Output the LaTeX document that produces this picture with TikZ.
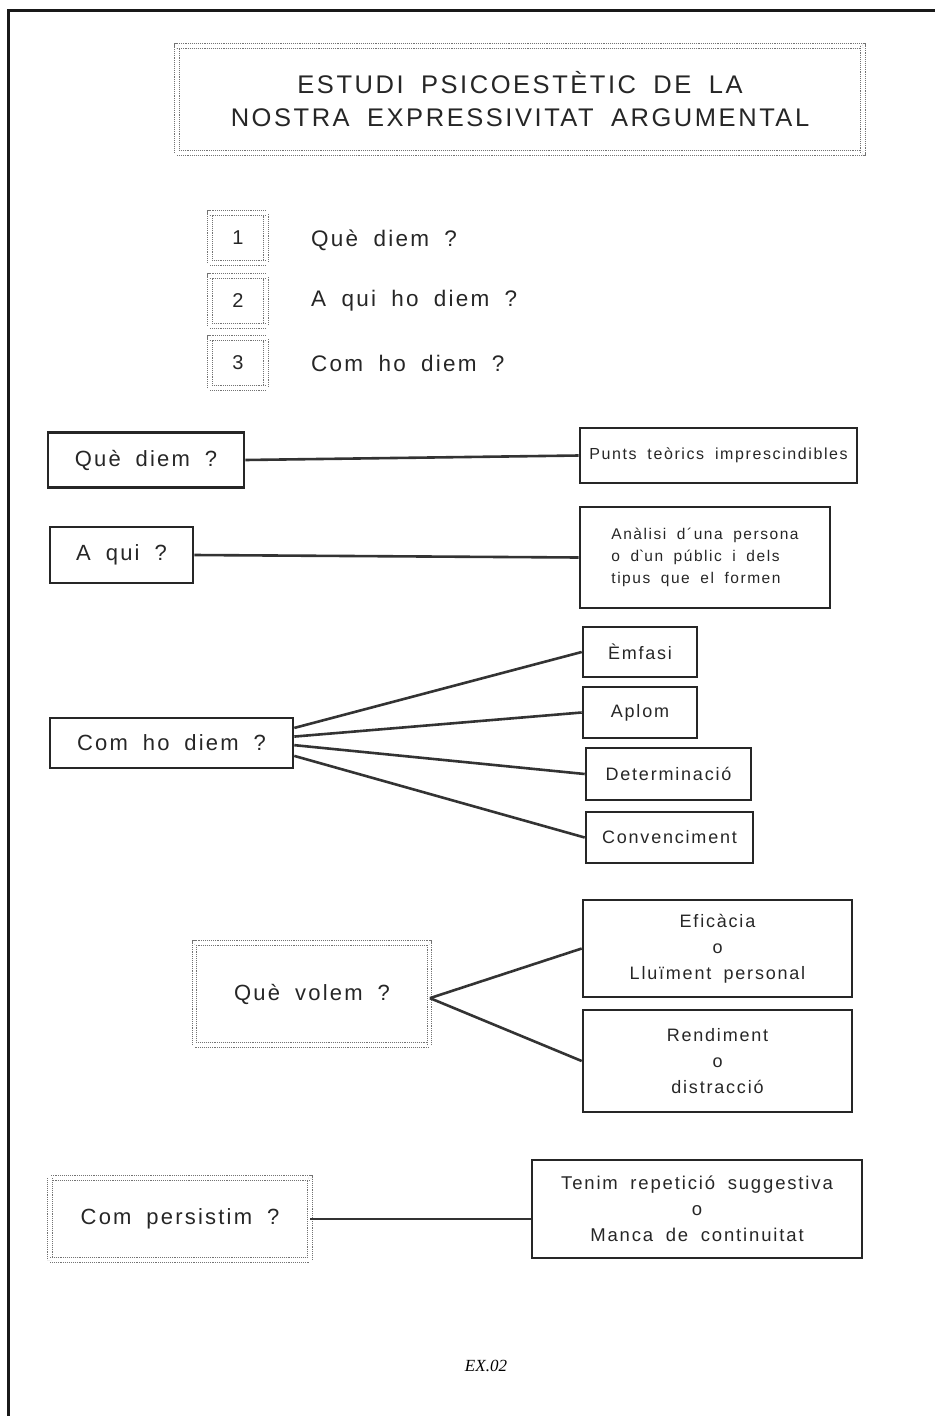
\documentclass[tikz,border=0pt]{standalone}
\usepackage{fontspec}
\newfontfamily\af[LetterSpace=10,WordSpace=1.6]{Liberation Sans}
\newfontfamily\tf[LetterSpace=10,WordSpace=1.8]{Liberation Sans}
\newfontfamily\exfont{Liberation Serif}
\tikzset{
  tbox/.style={draw=black!85, line width=2.6pt, inner sep=0pt, text=black!85, align=center},
  dbox/.style={draw=black!55, densely dotted, double, double distance=3.6pt, line width=0.9pt, inner sep=0pt, text=black!85, align=center},
  plain/.style={inner sep=0pt, text=black!85, anchor=west},
  conn/.style={draw=black!80, line width=2.6pt},
  frameline/.style={draw=black!90, line width=3pt}
}
\begin{document}
\begin{tikzpicture}[x=1pt,y=-1pt]
\useasboundingbox (0,0) rectangle (935,1416);
% page frame
\coordinate (fbl) at (8,1416);
\coordinate (ftl) at (8,10);
\coordinate (ftr) at (935,10);
\draw[frameline] (fbl) -- (ftl) -- (ftr);

% title
\node[dbox, minimum width=686, minimum height=107, font={\tf\fontsize{25.5}{33}\selectfont}] (title) at (520,99.5)
  {ESTUDI PSICOESTÈTIC DE LA\\NOSTRA EXPRESSIVITAT ARGUMENTAL};

% numbered list
\node[dbox, minimum width=56, minimum height=50, font={\af\fontsize{20}{20}\selectfont}] (n1) at (238,238) {1};
\node[dbox, minimum width=56, minimum height=50, font={\af\fontsize{20}{20}\selectfont}] (n2) at (238,301) {2};
\node[dbox, minimum width=56, minimum height=50, font={\af\fontsize{20}{20}\selectfont}] (n3) at (238,363) {3};
\node[plain, font={\af\fontsize{22.5}{24}\selectfont}] (l1) at (311,240) {Què diem ?};
\node[plain, font={\af\fontsize{22.5}{24}\selectfont}] (l2) at (311,301) {A qui ho diem ?};
\node[plain, font={\af\fontsize{22.5}{24}\selectfont}] (l3) at (311,363) {Com ho diem ?};

% Què diem ?
\node[tbox, minimum width=196, minimum height=55, font={\af\fontsize{22}{24}\selectfont}] (qd) at (146,460) {Què diem ?};
\node[tbox, minimum width=277, minimum height=55, font={\af\fontsize{16}{18}\selectfont}] (pt) at (718.5,455.5) {Punts teòrics imprescindibles};
\draw[conn] (qd.east) -- (pt.west);

% A qui ?
\node[tbox, minimum width=143, minimum height=56, font={\af\fontsize{22}{24}\selectfont}] (aq) at (121.5,555) {A qui ?};
\node[tbox, minimum width=250, minimum height=101, font={\af\fontsize{15.5}{22}\selectfont}, align=left] (an) at (705,557.5)
  {Anàlisi d´una persona\\o d\textasciigrave un públic i dels\\tipus que el formen};
\draw[conn] (aq.east) -- (an.west);

% Com ho diem ?
\node[tbox, minimum width=243, minimum height=50, font={\af\fontsize{22}{24}\selectfont}] (ch) at (171.5,743) {Com ho diem ?};
\node[tbox, minimum width=114, minimum height=50, font={\af\fontsize{18}{20}\selectfont}] (em) at (640,652) {Èmfasi};
\node[tbox, minimum width=114, minimum height=51, font={\af\fontsize{18}{20}\selectfont}] (ap) at (640,712.5) {Aplom};
\node[tbox, minimum width=165, minimum height=52, font={\af\fontsize{18}{20}\selectfont}] (de) at (668.5,774) {Determinació};
\node[tbox, minimum width=167, minimum height=51, font={\af\fontsize{18}{20}\selectfont}] (co) at (669.5,837.5) {Convenciment};
\draw[conn] (ch.7.5) -- (em.west);
\draw[conn] (ch.3.8) -- (ap.west);
\draw[conn] (ch.-1.4) -- (de.west);
\draw[conn] (ch.-6) -- (co.west);

% Què volem ?
\node[dbox, minimum width=235, minimum height=102, font={\af\fontsize{22}{24}\selectfont}] (qv) at (312,994) {Què volem ?};
\node[tbox, minimum width=269, minimum height=97, font={\af\fontsize{18}{26}\selectfont}] (ef) at (717.5,948.5)
  {Eficàcia\\o\\Lluïment personal};
\node[tbox, minimum width=269, minimum height=102, font={\af\fontsize{18}{26}\selectfont}] (re) at (717.5,1061)
  {Rendiment\\o\\distracció};
\draw[conn] (qv.-2) -- (ef.west);
\draw[conn] (qv.-2) -- (re.west);

% Com persistim ?
\node[dbox, minimum width=260, minimum height=82, font={\af\fontsize{22}{24}\selectfont}] (cp) at (180,1219) {Com persistim ?};
\node[tbox, minimum width=330, minimum height=98, font={\af\fontsize{18.5}{26}\selectfont}] (te) at (697,1209)
  {Tenim repetició suggestiva\\o\\Manca de continuitat};
\draw[conn] (cp.east) -- (cp.east -| te.west);

% footer
\node[inner sep=0pt, font={\exfont\itshape\fontsize{17}{20}\selectfont}] (ex) at (486,1366) {EX.02};
\end{tikzpicture}
\end{document}
